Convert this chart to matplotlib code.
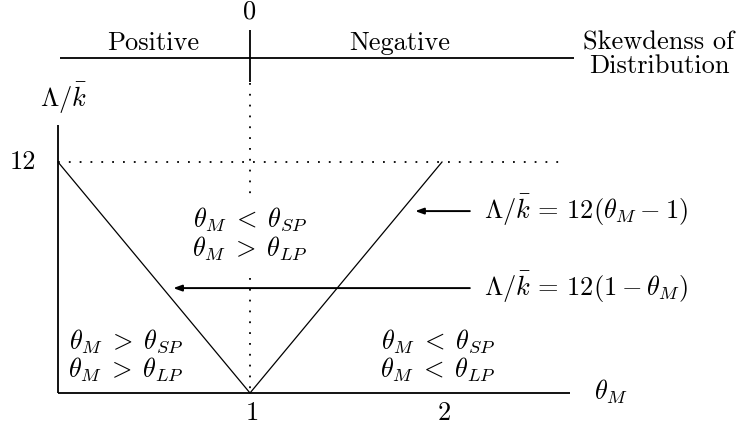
import numpy as np
import matplotlib.pyplot as plt

plt.rcParams['font.family'] = 'serif'
plt.rcParams['font.serif'] = ['cmr10', 'DejaVu Serif']
plt.rcParams['mathtext.fontset'] = 'cm'
plt.rcParams['axes.unicode_minus'] = False

# V shaped curve Lambda/k = 12|1 - theta_M|
theta = [0, 1, 2]
ratio = [12, 0, 12]

x_ticks = [1, 2]
x_labels = ['1', '2']
y_ticks = [12]
y_labels = ['12']

regions = [r'$\theta_M\;>\;\theta_{SP}$' + '\n' + r'$\theta_M\;>\;\theta_{LP}$',
           r'$\theta_M\;<\;\theta_{SP}$' + '\n' + r'$\theta_M\;>\;\theta_{LP}$',
           r'$\theta_M\;<\;\theta_{SP}$' + '\n' + r'$\theta_M\;<\;\theta_{LP}$']

fs = 19
fig = plt.figure(figsize=(7.4, 4.29), dpi=100)
ax = fig.add_axes([0, 0, 1, 1])
ax.set_xlim(-0.302, 3.552)
ax.set_ylim(-1.87, 20.416)
ax.axis('off')

# axes
ax.plot([0, 0], [0, 13.9], color='black', lw=1.3, solid_capstyle='butt')
ax.plot([0, 2.667], [0, 0], color='black', lw=1.3, solid_capstyle='butt')

# V lines
ax.plot(theta, ratio, color='black', lw=0.9)

# dotted guides (vertical one broken by the middle label)
dots = (0, (1, 5))
ax.plot([0, 2.65], [12, 12], color='black', lw=1.3, linestyle=dots)
ax.plot([1, 1], [16.1, 10.3], color='black', lw=1.3, linestyle=dots)
ax.plot([1, 1], [6.0, 0], color='black', lw=1.3, linestyle=dots)

# skewness axis on top
ax.plot([0.01, 2.685], [17.4, 17.4], color='black', lw=1.3, solid_capstyle='butt')
ax.plot([1, 1], [16.15, 18.85], color='black', lw=1.3, solid_capstyle='butt')
ax.text(1, 19.8, '0', fontsize=fs, ha='center', va='center')
ax.text(0.495, 18.2, 'Positive', fontsize=fs, ha='center', va='center')
ax.text(1.78, 18.2, 'Negative', fontsize=fs, ha='center', va='center')
ax.text(3.13, 17.6, 'Skewdenss of\nDistribution', fontsize=fs, ha='center',
        va='center', linespacing=1.0)

# tick labels
for xt, xl in zip(x_ticks, x_labels):
    ax.text(xt + 0.01, -1.05, xl, fontsize=fs, ha='center', va='center')
for yt, yl in zip(y_ticks, y_labels):
    ax.text(-0.18, yt, yl, fontsize=fs, ha='center', va='center')

ax.text(-0.095, 15.3, r'$\Lambda/\bar{k}$', fontsize=fs, ha='left', va='center')
ax.text(2.88, 0.05, r'$\theta_M$', fontsize=fs, ha='center', va='center')

# region labels
ax.text(0.355, 1.95, regions[0], fontsize=fs, ha='center', va='center', linespacing=1.05)
ax.text(1.0, 8.26, regions[1], fontsize=fs, ha='center', va='center', linespacing=1.05)
ax.text(1.98, 1.95, regions[2], fontsize=fs, ha='center', va='center', linespacing=1.05)

# equation labels with arrows
arrow = dict(arrowstyle='-|>,head_length=0.5,head_width=0.18', color='black', lw=1.4,
             shrinkA=0, shrinkB=0)
ax.annotate('', xy=(1.86, 9.45), xytext=(2.145, 9.45), arrowprops=arrow)
ax.text(2.22, 9.5, r'$\Lambda/\bar{k}\,=\,12(\theta_M - 1)$', fontsize=fs,
        ha='left', va='center')
ax.annotate('', xy=(0.6, 5.45), xytext=(2.145, 5.45), arrowprops=arrow)
ax.text(2.22, 5.5, r'$\Lambda/\bar{k}\,=\,12(1 - \theta_M)$', fontsize=fs,
        ha='left', va='center')

fig.savefig('out.png', dpi=100)
